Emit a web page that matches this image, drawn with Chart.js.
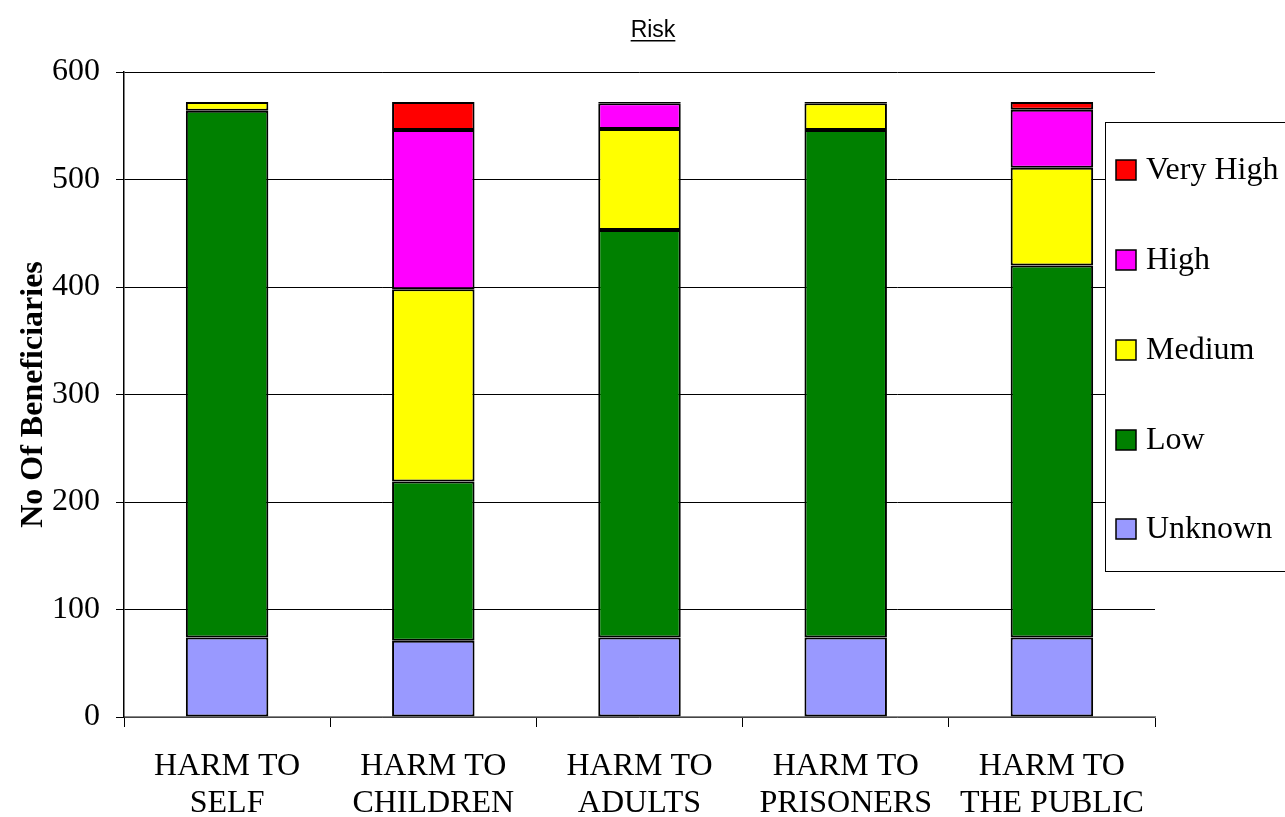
<!DOCTYPE html>
<html>
<head>
<meta charset="utf-8">
<script src="https://cdn.jsdelivr.net/npm/chart.js@4.4.1/dist/chart.umd.min.js"></script>
<style>
  html, body { margin: 0; padding: 0; background: #fff; }
  #wrap { position: relative; width: 1285px; height: 817px; }
</style>
</head>
<body>
<div id="wrap"><canvas id="c" width="1285" height="817"></canvas></div>
<script>
const categories = [["HARM TO", "SELF"], ["HARM TO", "CHILDREN"], ["HARM TO", "ADULTS"], ["HARM TO", "PRISONERS"], ["HARM TO", "THE PUBLIC"]];
const unknownVals  = [74, 71, 74, 74, 74];
const lowVals      = [490, 148, 379, 472, 346];
const mediumVals   = [8, 179, 94, 25, 91];
const highVals     = [0, 148, 24, 1, 54];
const veryHighVals = [0, 26, 1, 0, 7];
const yTicks = [0, 100, 200, 300, 400, 500, 600];

const seriesNames = ["Unknown", "Low", "Medium", "High", "Very High"];
const seriesColors = ["#9999FF", "#008000", "#FFFF00", "#FF00FF", "#FF0000"];
const seriesValues = [unknownVals, lowVals, mediumVals, highVals, veryHighVals];

const serif = "'Liberation Serif', 'Times New Roman', serif";
const sans = "'Liberation Sans', Arial, sans-serif";

const datasets = seriesNames.map((n, i) => ({
  label: n,
  data: seriesValues[i],
  backgroundColor: seriesColors[i],
  borderColor: "#000",
  borderWidth: 2,
  borderSkipped: false,
  barPercentage: 0.4,
  categoryPercentage: 1.0
}));

const overlay = {
  id: 'overlay',
  afterDraw(chart) {
    const ctx = chart.ctx;
    ctx.save();
    // Title
    ctx.font = "23px " + sans;
    ctx.fillStyle = "#000";
    ctx.textAlign = "center";
    ctx.textBaseline = "alphabetic";
    const tx = 653, ty = 37;
    ctx.fillText("Risk", tx, ty);
    const w = ctx.measureText("Risk").width;
    ctx.fillRect(tx - w / 2, ty + 3, w, 1.5);
    // Legend
    const lx = 1105.5, ly = 122.5, lw = 185, lh = 449;
    ctx.fillStyle = "#fff";
    ctx.fillRect(lx, ly, lw, lh);
    ctx.strokeStyle = "#000";
    ctx.lineWidth = 1;
    ctx.strokeRect(lx, ly, lw, lh);
    const order = [4, 3, 2, 1, 0];
    const ys = [170, 260, 350, 440, 529];
    ctx.font = "32px " + serif;
    ctx.textAlign = "left";
    ctx.textBaseline = "middle";
    order.forEach((di, k) => {
      const ds = chart.data.datasets[di];
      const y = ys[k];
      ctx.fillStyle = ds.backgroundColor;
      ctx.fillRect(1116, y - 10, 20, 20);
      ctx.strokeStyle = "#000";
      ctx.lineWidth = 1.5;
      ctx.strokeRect(1116, y - 10, 20, 20);
      ctx.fillStyle = "#000";
      ctx.fillText(ds.label, 1146, y + 1);
    });
    ctx.restore();
  }
};

new Chart(document.getElementById('c'), {
  type: 'bar',
  data: { labels: categories, datasets },
  options: {
    responsive: false,
    animation: false,
    layout: { padding: { left: 0, top: 72, right: 130, bottom: 0 } },
    plugins: { legend: { display: false }, title: { display: false }, tooltip: { enabled: false } },
    scales: {
      x: {
        stacked: true,
        offset: true,
        grid: { offset: true, drawOnChartArea: false, drawTicks: true, tickLength: 10, color: "#000", lineWidth: 1 },
        border: { color: "#888", width: 1.5 },
        ticks: { color: "#000", font: { family: serif, size: 32, lineHeight: 1.15 }, padding: 21, maxRotation: 0, autoSkip: false },
        afterFit(s) { s.height = 100; }
      },
      y: {
        stacked: true,
        min: 0,
        max: 600,
        afterBuildTicks(s) { s.ticks = yTicks.map(v => ({ value: v })); },
        grid: { color: "#000", lineWidth: 1, drawTicks: true, tickLength: 8 },
        border: { color: "#000", width: 1.5 },
        ticks: { color: "#000", font: { family: serif, size: 32 }, padding: 16 },
        title: { display: true, text: "No Of Beneficiaries", color: "#000", font: { family: serif, size: 32, weight: "bold" }, padding: { top: 15, bottom: 0 } },
        afterFit(s) { s.width = 124; }
      }
    }
  },
  plugins: [overlay]
});
</script>
</body>
</html>
